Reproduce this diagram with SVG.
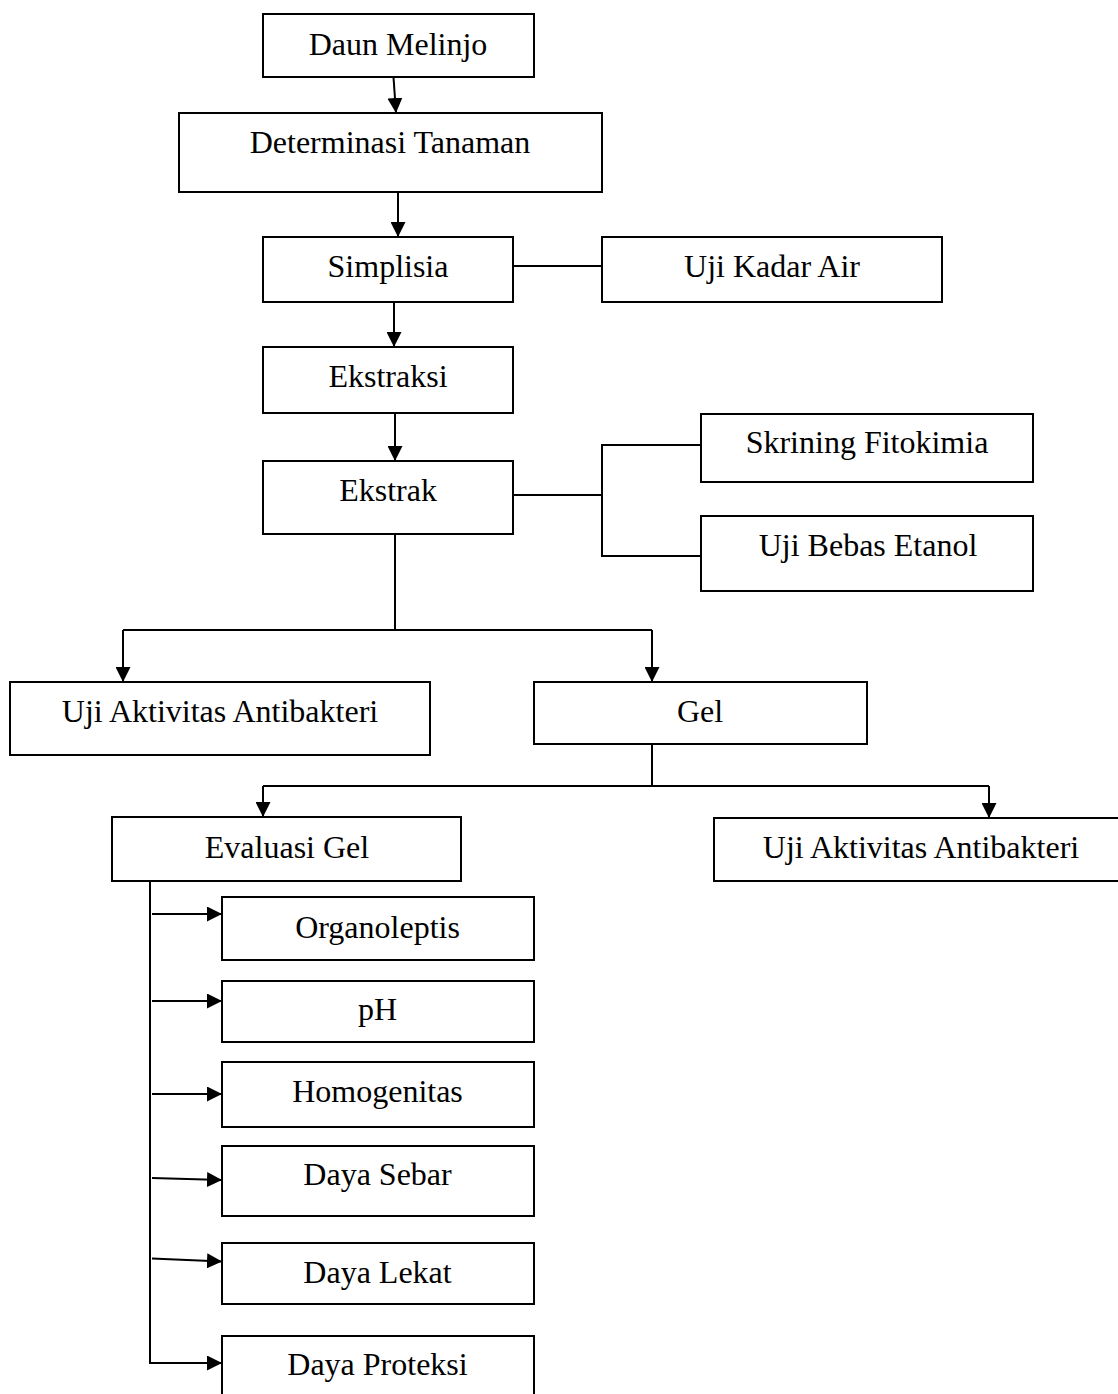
<svg xmlns="http://www.w3.org/2000/svg" width="1118" height="1394" viewBox="0 0 1118 1394">
<style>
.box{fill:#fff;stroke:#000;stroke-width:2}
.t{font-family:"Liberation Serif","Times New Roman",serif;font-size:32px;fill:#000;text-anchor:middle}
.c{fill:none;stroke:#000;stroke-width:2}
</style>
<defs>
<marker id="ah" markerUnits="userSpaceOnUse" markerWidth="15" markerHeight="15" refX="15" refY="7.5" orient="auto">
<path d="M0,0 L15,7.5 L0,15 Z" fill="#000"/>
</marker>
</defs>
<rect width="1118" height="1394" fill="#fff"/>
<g id="connectors">
<line class="c" x1="393.5" y1="77" x2="396" y2="113" marker-end="url(#ah)"/>
<line class="c" x1="398" y1="192" x2="398" y2="237" marker-end="url(#ah)"/>
<line class="c" x1="513" y1="266" x2="602" y2="266"/>
<line class="c" x1="394" y1="302" x2="394" y2="347" marker-end="url(#ah)"/>
<line class="c" x1="395" y1="414" x2="395" y2="461" marker-end="url(#ah)"/>
<polyline class="c" points="513,495 602,495"/>
<polyline class="c" points="701,445 602,445 602,556 701,556"/>
<line class="c" x1="395" y1="534" x2="395" y2="630"/>
<line class="c" x1="123" y1="630" x2="652" y2="630"/>
<line class="c" x1="123" y1="630" x2="123" y2="682" marker-end="url(#ah)"/>
<line class="c" x1="652" y1="630" x2="652" y2="682" marker-end="url(#ah)"/>
<line class="c" x1="652" y1="744" x2="652" y2="786"/>
<line class="c" x1="263" y1="786" x2="989" y2="786"/>
<line class="c" x1="263" y1="786" x2="263" y2="817" marker-end="url(#ah)"/>
<line class="c" x1="989" y1="786" x2="989" y2="818" marker-end="url(#ah)"/>
<line class="c" x1="150" y1="881" x2="150" y2="1363"/>
<line class="c" x1="152" y1="914" x2="222" y2="914" marker-end="url(#ah)"/>
<line class="c" x1="152" y1="1001" x2="222" y2="1001" marker-end="url(#ah)"/>
<line class="c" x1="152" y1="1094" x2="222" y2="1094" marker-end="url(#ah)"/>
<line class="c" x1="152" y1="1178" x2="222" y2="1180" marker-end="url(#ah)"/>
<line class="c" x1="152" y1="1258.5" x2="222" y2="1261.5" marker-end="url(#ah)"/>
<line class="c" x1="149" y1="1363" x2="222" y2="1363" marker-end="url(#ah)"/>
</g>
<g id="daun-melinjo"><rect class="box" x="263" y="14" width="271" height="63"/><text class="t" x="398" y="55">Daun Melinjo</text></g>
<g id="determinasi"><rect class="box" x="179" y="113" width="423" height="79"/><text class="t" x="390" y="153">Determinasi Tanaman</text></g>
<g id="simplisia"><rect class="box" x="263" y="237" width="250" height="65"/><text class="t" x="388" y="277">Simplisia</text></g>
<g id="uji-kadar-air"><rect class="box" x="602" y="237" width="340" height="65"/><text class="t" x="772" y="277">Uji Kadar Air</text></g>
<g id="ekstraksi"><rect class="box" x="263" y="347" width="250" height="66"/><text class="t" x="388" y="387">Ekstraksi</text></g>
<g id="ekstrak"><rect class="box" x="263" y="461" width="250" height="73"/><text class="t" x="388" y="501">Ekstrak</text></g>
<g id="skrining"><rect class="box" x="701" y="414" width="332" height="68"/><text class="t" x="867" y="453">Skrining Fitokimia</text></g>
<g id="uji-bebas-etanol"><rect class="box" x="701" y="516" width="332" height="75"/><text class="t" x="868" y="556">Uji Bebas Etanol</text></g>
<g id="uji-antibakteri-1"><rect class="box" x="10" y="682" width="420" height="73"/><text class="t" x="220" y="722">Uji Aktivitas Antibakteri</text></g>
<g id="gel"><rect class="box" x="534" y="682" width="333" height="62"/><text class="t" x="700" y="722">Gel</text></g>
<g id="evaluasi-gel"><rect class="box" x="112" y="817" width="349" height="64"/><text class="t" x="287" y="858">Evaluasi Gel</text></g>
<g id="uji-antibakteri-2"><rect class="box" x="714" y="818" width="420" height="63"/><text class="t" x="921" y="858">Uji Aktivitas Antibakteri</text></g>
<g id="organoleptis"><rect class="box" x="222" y="897" width="312" height="63"/><text class="t" x="377.5" y="938">Organoleptis</text></g>
<g id="ph"><rect class="box" x="222" y="981" width="312" height="61"/><text class="t" x="377.5" y="1020">pH</text></g>
<g id="homogenitas"><rect class="box" x="222" y="1062" width="312" height="65"/><text class="t" x="377.5" y="1102">Homogenitas</text></g>
<g id="daya-sebar"><rect class="box" x="222" y="1146" width="312" height="70"/><text class="t" x="377.5" y="1185">Daya Sebar</text></g>
<g id="daya-lekat"><rect class="box" x="222" y="1243" width="312" height="61"/><text class="t" x="377.5" y="1283">Daya Lekat</text></g>
<g id="daya-proteksi"><rect class="box" x="222" y="1336" width="312" height="70"/><text class="t" x="377.5" y="1375">Daya Proteksi</text></g>
</svg>
